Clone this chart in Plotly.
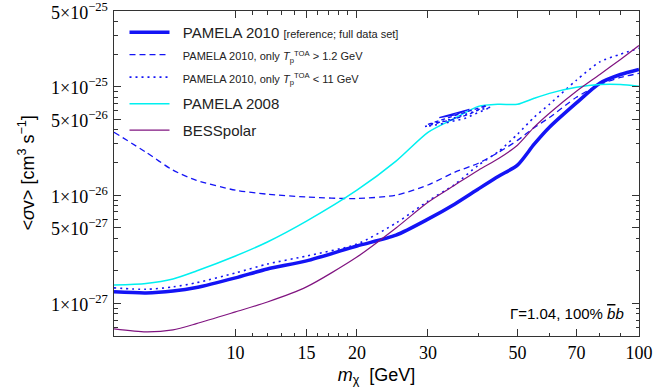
import math
import plotly.graph_objects as go

# ---------------- data ----------------
mass = [5, 6, 7, 8, 10, 12, 15, 20, 25, 30, 35, 40, 45, 50, 55, 60, 70, 80, 90, 100]

pamela2010 = [1.28e-27, 1.25e-27, 1.30e-27, 1.40e-27, 1.72e-27, 2.08e-27, 2.47e-27, 3.39e-27,
              4.27e-27, 6.0e-27, 8.3e-27, 1.14e-26, 1.5e-26, 1.89e-26, 2.95e-26, 4.23e-26,
              7.1e-26, 1.08e-25, 1.30e-25, 1.45e-25]

pamela2010_high = [3.81e-26, 2.49e-26, 1.70e-26, 1.37e-26, 1.11e-26, 1.02e-26, 9.6e-27, 9.3e-27,
                   1.0e-26, 1.24e-26, 1.63e-26, 1.97e-26, 2.5e-26, 3.2e-26, 4.2e-26, 5.2e-26,
                   8.0e-26, 1.05e-25, 1.22e-25, 1.33e-25]

pamela2010_low = [1.39e-27, 1.35e-27, 1.42e-27, 1.55e-27, 1.91e-27, 2.31e-27, 2.74e-27, 3.53e-27,
                  5.52e-27, 8.8e-27, 1.26e-26, 1.89e-26, 2.55e-26, 3.65e-26, 5.24e-26, 6.9e-26,
                  1.15e-25, 1.70e-25, 2.0e-25, 2.27e-25]

pamela2008 = [1.48e-27, 1.53e-27, 1.68e-27, 1.99e-27, 2.74e-27, 3.69e-27, 5.75e-27, 1.11e-26,
              2.06e-26, 3.8e-26, 5.13e-26, 6.6e-26, 6.9e-26, 6.9e-26, 7.83e-26, 8.7e-26,
              9.9e-26, 1.05e-25, 1.05e-25, 1.01e-25]

besspolar = [5.82e-28, 5.46e-28, 5.70e-28, 6.5e-28, 8.35e-28, 1.03e-27, 1.42e-27, 2.68e-27,
             4.97e-27, 8.6e-27, 1.24e-26, 1.70e-26, 2.19e-26, 2.89e-26, 4.24e-26, 5.70e-26,
             9.1e-26, 1.30e-25, 1.79e-25, 2.41e-25]

# small closed contour islands near 30-40 GeV
loop_high_m = [30, 34, 38, 42, 38, 34, 30]
loop_high_v = [4.51e-26, 5.24e-26, 6.07e-26, 6.75e-26, 5.58e-26, 4.91e-26, 4.51e-26]
loop_low_m = [29.5, 34, 40, 43, 37, 32, 29.5]
loop_low_v = [4.3e-26, 5.0e-26, 6.1e-26, 6.5e-26, 5.1e-26, 4.5e-26, 4.3e-26]
loop_ref_m = [32, 35, 38, 35, 32]
loop_ref_v = [5.2e-26, 5.7e-26, 6.2e-26, 5.5e-26, 5.2e-26]

x_major = [10, 15, 20, 30, 50, 70, 100]
x_minor = [11, 12, 13, 14, 16, 17, 18, 19, 40, 60, 80, 90]
y_major = [1e-27, 5e-27, 1e-26, 5e-26, 1e-25, 5e-25]
y_minor = [m * 10.0 ** e for e in (-28, -27, -26, -25) for m in range(1, 10)
           if 5e-28 <= m * 10.0 ** e <= 5e-25 and m not in (1, 5)]


def sci_label(v):
    e = int(f"{v:e}".split("e")[1])
    mant = round(v / 10 ** e)
    return f"{mant}×10<sup>−{abs(e)}</sup>"


y_text = [sci_label(v) for v in y_major]

BLUE = "rgb(20,20,245)"
CYAN = "rgb(0,240,240)"
PURPLE = "rgb(128,20,128)"
SPL = dict(shape="spline", smoothing=0.7)
PAD = "\u00a0\u00a0"

fig = go.Figure()
fig.add_trace(go.Scatter(x=mass, y=pamela2010, mode="lines", legendgroup="a",
                         line=dict(color=BLUE, width=3.5, **SPL),
                         name=PAD + "PAMELA 2010 <span style='font-size:11px'>[reference; full data set]</span>"))
fig.add_trace(go.Scatter(x=mass, y=pamela2010_high, mode="lines", legendgroup="a",
                         line=dict(color=BLUE, width=1.3, dash="6px,4px", **SPL),
                         name=PAD + "<span style='font-size:11px'>PAMELA 2010, only <i>T</i><sub>p</sub><sup>TOA</sup> &gt; 1.2 GeV</span>"))
fig.add_trace(go.Scatter(x=mass, y=pamela2010_low, mode="lines", legendgroup="a",
                         line=dict(color=BLUE, width=1.6, dash="2px,4px", **SPL),
                         name=PAD + "<span style='font-size:11px'>PAMELA 2010, only <i>T</i><sub>p</sub><sup>TOA</sup> &lt; 11 GeV</span>"))
fig.add_trace(go.Scatter(x=mass, y=pamela2008, mode="lines", legendgroup="b",
                         line=dict(color=CYAN, width=1.5, **SPL), name=PAD + "PAMELA 2008"))
fig.add_trace(go.Scatter(x=mass, y=besspolar, mode="lines", legendgroup="c",
                         line=dict(color=PURPLE, width=1.2, **SPL), name=PAD + "BESSpolar"))

fig.add_trace(go.Scatter(x=loop_high_m, y=loop_high_v, mode="lines", showlegend=False,
                         line=dict(color=BLUE, width=1.3, dash="4px,3px")))
fig.add_trace(go.Scatter(x=loop_low_m, y=loop_low_v, mode="lines", showlegend=False,
                         line=dict(color=BLUE, width=1.6, dash="2px,4px")))
fig.add_trace(go.Scatter(x=loop_ref_m, y=loop_ref_v, mode="lines", showlegend=False,
                         line=dict(color=BLUE, width=1.2)))

tickfont = dict(family="Liberation Serif", size=18, color="black")
common = dict(type="log", showgrid=False, zeroline=False, showline=True, linecolor="#333",
              linewidth=1, mirror="allticks", ticks="inside", ticklen=7, tickcolor="#333",
              tickfont=tickfont, automargin=False)

fig.update_xaxes(**common, range=[0.69897, 2.0002], tickvals=x_major,
                 ticktext=[str(v) for v in x_major],
                 minor=dict(tickvals=x_minor, ticks="inside", ticklen=3.5, tickcolor="#333",
                            showgrid=False),
                 title=dict(text="<i>m</i><sub>χ</sub>  [GeV]",
                            font=dict(family="Liberation Sans", size=18, color="black"),
                            standoff=6))
fig.update_yaxes(**common, range=[-27.30103, -24.2998], tickvals=y_major,
                 showticklabels=False,
                 minor=dict(tickvals=y_minor, ticks="inside", ticklen=3.5, tickcolor="#333",
                            showgrid=False))

# y tick labels placed at their tick values on the log axis
for v, t in zip(y_major, y_text):
    fig.add_annotation(xref="paper", yref="y", x=0, y=math.log10(v), xshift=-5,
                       xanchor="right", yanchor="middle", showarrow=False, text=t,
                       font=tickfont, borderpad=0)

fig.add_annotation(xref="paper", yref="paper", x=0, xshift=-87, y=0.5, textangle=-90,
                   xanchor="center", yanchor="middle", showarrow=False,
                   text="&lt;<i>σ</i>v&gt; [cm<sup>3</sup> s<sup>−1</sup>]",
                   font=dict(family="Liberation Sans", size=18, color="black"))

fig.add_annotation(xref="paper", yref="paper", x=0.976, y=0.07, xanchor="right", yanchor="middle",
                   text="Γ=1.04, 100% <i><span style='text-decoration:overline'>b</span>b</i>",
                   showarrow=False,
                   font=dict(family="Liberation Sans", size=15, color="black"))

fig.update_layout(
    width=672, height=391,
    margin=dict(l=114, r=33, t=11, b=55),
    paper_bgcolor="white", plot_bgcolor="white",
    legend=dict(x=0.02, y=0.985, xanchor="left", yanchor="top", bgcolor="rgba(0,0,0,0)",
                font=dict(family="Liberation Sans", size=15, color="#222"),
                itemwidth=40, tracegroupgap=4),
)

fig.write_html("out.html")
